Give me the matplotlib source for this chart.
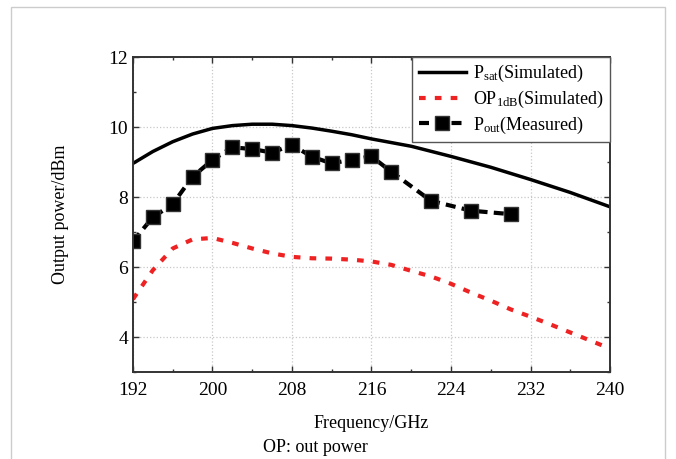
import matplotlib
matplotlib.use("Agg")
import matplotlib.pyplot as plt
from matplotlib.patches import Rectangle
from matplotlib.ticker import MultipleLocator

plt.rcParams['font.family'] = ['Liberation Serif', 'DejaVu Serif']
plt.rcParams['mathtext.fontset'] = 'custom'
plt.rcParams['mathtext.rm'] = 'Liberation Serif'
plt.rcParams['mathtext.it'] = 'Liberation Serif:italic'

# Psat (simulated)
psat_f = [192, 194, 196, 198, 200, 202, 204, 206, 208, 210, 212, 214, 216,
          220, 224, 228, 232, 236, 240]
psat_p = [8.96, 9.30, 9.58, 9.80, 9.96, 10.04, 10.08, 10.08, 10.04, 9.97,
          9.88, 9.78, 9.66, 9.45, 9.16, 8.85, 8.50, 8.13, 7.72]

# OP1dB (simulated)
op_f = [192, 194, 196, 198, 200, 202, 204, 206, 208, 210, 212, 214, 216,
        218, 220, 222, 224, 226, 228, 230, 232, 234, 236, 238, 240]
op_p = [5.08, 5.91, 6.53, 6.79, 6.83, 6.69, 6.53, 6.39, 6.29, 6.25, 6.24,
        6.21, 6.16, 6.06, 5.89, 5.73, 5.52, 5.27, 5.04, 4.79, 4.58, 4.36,
        4.13, 3.90, 3.67]

# Pout (measured)
meas_f = [192, 194, 196, 198, 200, 202, 204, 206, 208, 210, 212, 214, 216,
          218, 222, 226, 230]
meas_p = [6.74, 7.42, 7.80, 8.58, 9.06, 9.42, 9.37, 9.27, 9.49, 9.15, 8.96,
          9.07, 9.16, 8.72, 7.89, 7.61, 7.51]

fig = plt.figure(figsize=(6.76, 4.59), dpi=100)
ax = fig.add_axes([0.1967, 0.1895, 0.7057, 0.6863])

ax.plot(psat_f, psat_p, color='black', lw=2.5,
        label=r'P$_{\rm sat}$(Simulated)')
ax.plot(op_f, op_p, color='#ee2222', lw=3.0, linestyle=(0, (1.6, 2.2)),
        label=r'OP$_{\rm 1dB}$(Simulated)')
ax.plot(meas_f, meas_p, color='black', lw=3.0, linestyle=(0, (2.4, 1.5)),
        marker='s', markersize=10, markerfacecolor='black',
        markeredgecolor='#333333', label=r'P$_{\rm out}$(Measured)')

ax.set_xlim(192, 240)
ax.set_ylim(3, 12)
ax.xaxis.set_major_locator(MultipleLocator(8))
ax.xaxis.set_minor_locator(MultipleLocator(4))
ax.yaxis.set_major_locator(MultipleLocator(2))
ax.yaxis.set_minor_locator(MultipleLocator(1))
ax.tick_params(which='both', direction='in', top=True, right=True,
               labelsize=14, color='#333333')
ax.tick_params(which='major', length=4, width=1)
ax.tick_params(which='minor', length=2.5, width=1)
ax.tick_params(axis='x', pad=7)
ax.grid(True, which='major', color='#c8c8c8', linestyle=':', lw=0.9)
for s in ax.spines.values():
    s.set_linewidth(1.4)
    s.set_color('#333333')

ax.set_xlabel('Frequency/GHz', fontsize=13, labelpad=12)
ax.set_ylabel('Output power/dBm', fontsize=13, labelpad=28)

leg = ax.legend(loc='upper right', fontsize=13, frameon=True, fancybox=False,
                edgecolor='#555555', framealpha=1, borderaxespad=0,
                handlelength=2.6, handletextpad=0.4, labelspacing=0.25,
                borderpad=0.35)
leg.get_frame().set_linewidth(1.0)

fig.text(0.466, 0.015, 'OP: out power', fontsize=13, ha='center')

# light border around the figure
fig.patches.append(Rectangle((0.016, -0.01), 0.968, 0.995,
                             transform=fig.transFigure, fill=False,
                             edgecolor='#cccccc', lw=1.0))

fig.savefig('out.png', dpi=100)
